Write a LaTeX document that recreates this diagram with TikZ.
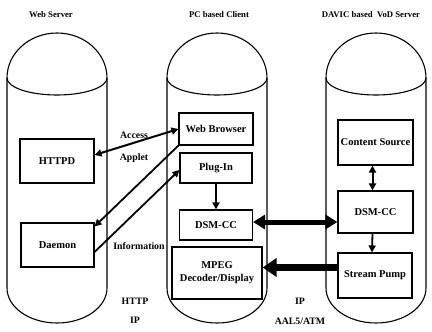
\documentclass[tikz,border=0pt]{standalone}
\usepackage{fontspec}
\setmainfont{Liberation Serif}
\usetikzlibrary{arrows.meta}
\begin{document}
\begin{tikzpicture}[x=1pt,y=-1pt,
  cyl/.style={line width=1.1pt},
  box/.style={draw,line width=1.1pt,inner sep=0pt,align=center,font=\fontsize{10.5}{13}\selectfont\bfseries},
  lbl/.style={inner sep=0pt,font=\fontsize{9.8}{12}\selectfont\bfseries},
  ttl/.style={inner sep=0pt,font=\fontsize{8.7}{11}\selectfont\bfseries},
  thin/.style={line width=1.8pt,-{Triangle[length=7pt,width=7pt]}},
  thinb/.style={line width=2pt,{Triangle[length=7pt,width=7pt]}-{Triangle[length=7pt,width=7pt]}},
  thickb/.style={line width=5pt,{Triangle[length=12pt,width=14pt]}-{Triangle[length=12pt,width=14pt]}},
  thickk/.style={line width=7pt,-{Triangle[length=14pt,width=18pt]}}
]
\useasboundingbox (0,0) rectangle (432,332);
% cylinders
\foreach \xl in {7,167,326}{
  \draw[cyl] (\xl,78) arc[start angle=180,end angle=360,x radius=50,y radius=45]
     -- (\xl+100,288) arc[start angle=0,end angle=180,x radius=50,y radius=35] -- cycle;
  \draw[cyl] (\xl,78) arc[start angle=180,end angle=0,x radius=50,y radius=17];
}
% titles
\node[ttl] (t1) at (51,15) {Web Server};
\node[ttl] (t2) at (219,15) {PC based Client};
\node[ttl] (t3) at (371,15) {DAVIC based\ \ VoD Server};
% boxes
\node[box,minimum width=74pt,minimum height=44pt] (httpd) at (57,161) {HTTPD};
\node[box,minimum width=73pt,minimum height=44pt] (daemon) at (57.5,245) {Daemon};
\node[box,fill=white,minimum width=74pt,minimum height=32pt] (wb) at (216,129) {Web Browser};
\node[box,fill=white,minimum width=72pt,minimum height=30pt] (plug) at (216,168) {Plug-In};
\node[box,fill=white,minimum width=73pt,minimum height=30pt] (dsmc) at (216,225) {DSM-CC};
\node[box,fill=white,minimum width=90pt,minimum height=52pt] (mpeg) at (217,273) {MPEG\\Decoder/Display};
\node[box,fill=white,minimum width=75pt,minimum height=45pt] (cs) at (375.5,142.5) {Content Source};
\node[box,fill=white,minimum width=75pt,minimum height=42pt] (dsms) at (375.5,212) {DSM-CC};
\node[box,fill=white,minimum width=74pt,minimum height=45pt] (sp) at (375,275.5) {Stream Pump};
% labels
\node[lbl] (acc) at (134,135) {Access};
\node[lbl] (app) at (134,158) {Applet};
\node[lbl] (inf) at (139,246) {Information};
\node[lbl] (http) at (135,301) {HTTP};
\node[lbl] (ip1) at (135,320) {IP};
\node[lbl] (ip2) at (300,301) {IP};
\node[lbl] (aal) at (300,321) {AAL5/ATM};
% connectors
\draw[thinb] ([yshift=6pt]httpd.east) -- (wb.west);
\draw[thin] (wb.south west) -- ([yshift=-4pt]daemon.north east);
\draw[thin] ([yshift=-7pt]daemon.east) -- ([yshift=-2pt]plug.west);
\draw[thin] (plug.south) -- (dsmc.north);
\draw[thickb] ([yshift=3pt]dsmc.east) -- ([yshift=3pt]dsmc.east -| dsms.west);
\draw[thickk] ([yshift=8pt]sp.west) -- ([yshift=8pt]sp.west -| mpeg.east);
\draw[thinb] ([xshift=-3pt]cs.south) -- ([xshift=-3pt]dsms.north);
\draw[thin] ([xshift=-3pt]dsms.south) -- ([xshift=-3pt]sp.north);
\end{tikzpicture}
\end{document}
